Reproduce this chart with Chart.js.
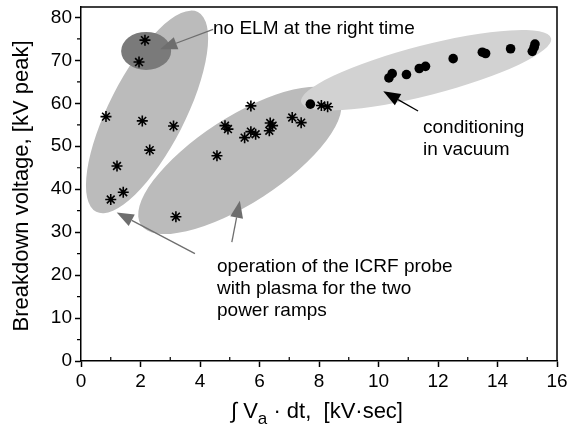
<!DOCTYPE html>
<html>
<head>
<meta charset="utf-8">
<script src="https://cdn.jsdelivr.net/npm/chart.js@4/dist/chart.umd.min.js"></script>
<style>
  html, body { margin: 0; padding: 0; background: #fff; }
</style>
</head>
<body>
<canvas id="myChart" width="571" height="430"></canvas>
<script>
// operation of the ICRF probe with plasma (stars)
const plasmaX = [2.15, 1.95, 0.84, 2.06, 3.11, 2.31, 1.21, 1.42, 1.00, 3.19,
                 5.71, 4.84, 4.94, 5.50, 4.57, 5.71, 5.87, 6.36, 6.44, 6.33, 7.10, 7.40, 8.08, 8.29];
const plasmaY = [74.7, 69.6, 56.9, 55.9, 54.7, 49.1, 45.4, 39.3, 37.6, 33.6,
                 59.4, 54.8, 54.0, 52.0, 47.8, 53.4, 52.8, 55.4, 54.8, 53.6, 56.7, 55.5, 59.5, 59.2];
// conditioning in vacuum (filled circles)
const vacuumX = [7.71, 10.35, 10.46, 10.94, 11.37, 11.58, 12.51, 13.49, 13.60, 14.44, 15.17, 15.23, 15.26];
const vacuumY = [59.8, 65.9, 66.9, 66.7, 68.1, 68.6, 70.4, 71.9, 71.6, 72.7, 72.1, 73.0, 73.8];

const xTicks = [0, 2, 4, 6, 8, 10, 12, 14, 16];
const yTicks = [0, 10, 20, 30, 40, 50, 60, 70, 80];

const fam = '"Liberation Sans", Arial, Helvetica, sans-serif';

const ellipses = [
  {x: 2.22, y: 58.0, rx: 112, ry: 38, rot: 63, color: '#bbbbbb'},
  {x: 5.34, y: 46.7, rx: 118, ry: 43, rot: 33, color: '#bbbbbb'},
  {x: 11.6, y: 67.7, rx: 129, ry: 25, rot: 14.4, color: '#d2d2d2'},
  {x: 2.19, y: 72.2, rx: 25, ry: 19, rot: 0, color: '#7a7a7a'}
];

const arrows = [
  {x1: 4.44, y1: 77.2, x2: 2.66, y2: 72.6, color: '#6e6e6e'},
  {x1: 11.33, y1: 58.2, x2: 10.16, y2: 62.8, color: '#000'},
  {x1: 3.83, y1: 25.0, x2: 1.20, y2: 34.6, color: '#6e6e6e'},
  {x1: 5.07, y1: 27.7, x2: 5.34, y2: 37.3, color: '#6e6e6e'}
];

const notes = [
  {text: 'no ELM at the right time', x: 213, y: 34},
  {text: 'conditioning', x: 423, y: 133},
  {text: 'in vacuum', x: 423, y: 155},
  {text: 'operation of the ICRF probe', x: 217, y: 272},
  {text: 'with plasma for the two', x: 217, y: 294},
  {text: 'power ramps', x: 217, y: 316}
];

function drawArrow(ctx, x1, y1, x2, y2, color) {
  const ang = Math.atan2(y2 - y1, x2 - x1);
  const len = 17, half = 6.5;
  const bx = x2 - len * Math.cos(ang), by = y2 - len * Math.sin(ang);
  ctx.strokeStyle = color;
  ctx.lineWidth = 1.3;
  ctx.beginPath();
  ctx.moveTo(x1, y1);
  ctx.lineTo(bx, by);
  ctx.stroke();
  ctx.fillStyle = color;
  ctx.beginPath();
  ctx.moveTo(x2, y2);
  ctx.lineTo(bx + half * Math.sin(ang), by - half * Math.cos(ang));
  ctx.lineTo(bx - half * Math.sin(ang), by + half * Math.cos(ang));
  ctx.closePath();
  ctx.fill();
}

const decor = {
  id: 'decor',
  beforeDatasetsDraw(chart) {
    const ctx = chart.ctx, xs = chart.scales.x, ys = chart.scales.y, a = chart.chartArea;
    ctx.save();
    ctx.beginPath();
    ctx.rect(a.left, a.top, a.right - a.left, a.bottom - a.top);
    ctx.clip();
    for (const e of ellipses) {
      ctx.fillStyle = e.color;
      ctx.beginPath();
      ctx.ellipse(xs.getPixelForValue(e.x), ys.getPixelForValue(e.y), e.rx, e.ry, -e.rot * Math.PI / 180, 0, Math.PI * 2);
      ctx.fill();
    }
    ctx.restore();
  },
  afterDatasetsDraw(chart) {
    const ctx = chart.ctx, xs = chart.scales.x, ys = chart.scales.y, a = chart.chartArea;
    ctx.save();
    for (const ar of arrows) {
      drawArrow(ctx, xs.getPixelForValue(ar.x1), ys.getPixelForValue(ar.y1),
                xs.getPixelForValue(ar.x2), ys.getPixelForValue(ar.y2), ar.color);
    }
    ctx.fillStyle = '#000';
    ctx.font = '19px ' + fam;
    ctx.textAlign = 'left';
    ctx.textBaseline = 'alphabetic';
    for (const n of notes) ctx.fillText(n.text, n.x, n.y);

    // frame top and right
    ctx.strokeStyle = '#000';
    ctx.lineWidth = 1.5;
    ctx.beginPath();
    ctx.moveTo(a.left, a.top);
    ctx.lineTo(a.right, a.top);
    ctx.lineTo(a.right, a.bottom);
    ctx.stroke();

    // minor ticks
    ctx.lineWidth = 1.2;
    ctx.beginPath();
    for (let v = 1; v < 16; v += 2) {
      const px = xs.getPixelForValue(v);
      ctx.moveTo(px, a.bottom);
      ctx.lineTo(px, a.bottom - 4);
    }
    for (let v = 5; v < 82; v += 10) {
      const py = ys.getPixelForValue(v);
      ctx.moveTo(a.left, py);
      ctx.lineTo(a.left - 4, py);
    }
    ctx.stroke();

    // y title
    ctx.save();
    ctx.translate(22, 186);
    ctx.rotate(-Math.PI / 2);
    ctx.font = '22px ' + fam;
    ctx.textAlign = 'center';
    ctx.textBaseline = 'middle';
    ctx.fillText('Breakdown voltage, [kV peak]', 0, 0);
    ctx.restore();

    // x title with subscript
    const big = '22px ' + fam, small = '17px ' + fam;
    const p1 = '\u222B V', p2 = 'a', p3 = ' \u00B7 dt,  [kV\u00B7sec]';
    ctx.font = big; const w1 = ctx.measureText(p1).width, w3 = ctx.measureText(p3).width;
    ctx.font = small; const w2 = ctx.measureText(p2).width;
    let x = 317 - (w1 + w2 + w3) / 2;
    const base = 418;
    ctx.textAlign = 'left';
    ctx.textBaseline = 'alphabetic';
    ctx.font = big; ctx.fillText(p1, x, base); x += w1;
    ctx.font = small; ctx.fillText(p2, x, base + 6); x += w2;
    ctx.font = big; ctx.fillText(p3, x, base);
    ctx.restore();
  }
};

new Chart('myChart', {
  type: 'scatter',
  data: {
    datasets: [{
      data: plasmaX.map((x, i) => ({x: x, y: plasmaY[i]})),
      pointStyle: 'star',
      radius: 5.5,
      borderColor: '#000',
      backgroundColor: '#000',
      borderWidth: 1.6
    }, {
      data: vacuumX.map((x, i) => ({x: x, y: vacuumY[i]})),
      pointStyle: 'circle',
      radius: 4.8,
      borderWidth: 0,
      backgroundColor: '#000'
    }]
  },
  options: {
    responsive: false,
    animation: false,
    events: [],
    layout: {padding: {top: 6, right: 14, left: 0, bottom: 0}},
    plugins: {legend: {display: false}, tooltip: {enabled: false}},
    scales: {
      x: {
        type: 'linear', min: 0, max: 16,
        afterFit: s => { s.height = 69; s.paddingLeft = 0; s.paddingRight = 0; },
        afterBuildTicks: s => { s.ticks = xTicks.map(v => ({value: v})); },
        ticks: {color: '#000', font: {size: 19, family: fam}, padding: 3, maxRotation: 0},
        grid: {drawOnChartArea: false, tickLength: 6, tickWidth: 1.5, color: '#000'},
        border: {color: '#000', width: 1.5}
      },
      y: {
        type: 'linear', min: 0, max: 82.4,
        afterFit: s => { s.width = 81; s.paddingTop = 0; s.paddingBottom = 0; },
        afterBuildTicks: s => { s.ticks = yTicks.map(v => ({value: v})); },
        ticks: {color: '#000', font: {size: 19, family: fam}, padding: 3},
        grid: {drawOnChartArea: false, tickLength: 6, tickWidth: 1.5, color: '#000'},
        border: {color: '#000', width: 1.5}
      }
    }
  },
  plugins: [decor]
});
</script>
</body>
</html>
